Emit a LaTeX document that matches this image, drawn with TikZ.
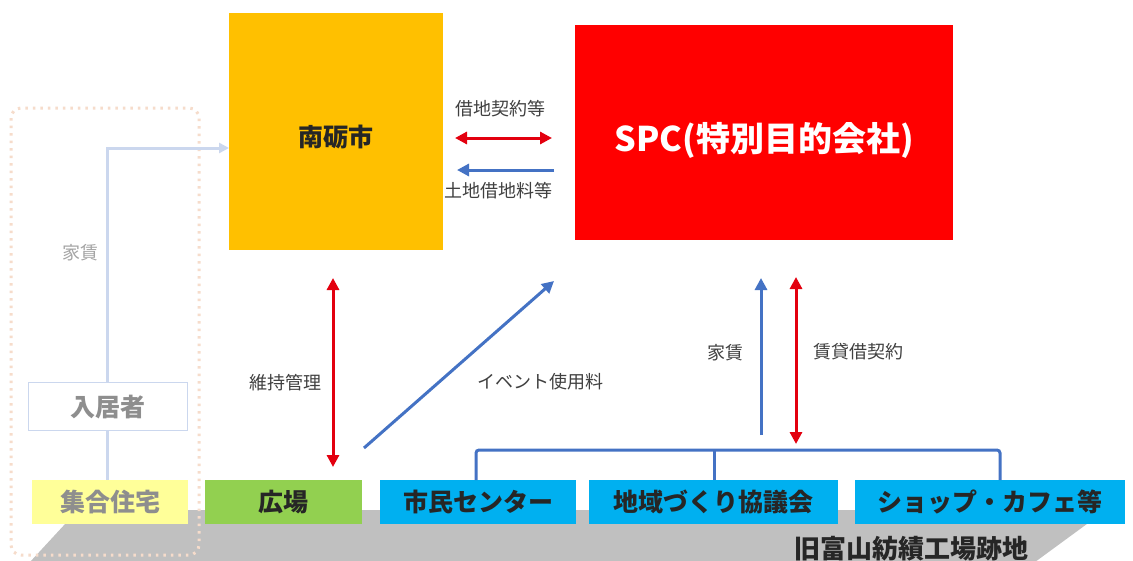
\documentclass[tikz,border=0pt]{standalone}
\usepackage{fontspec}
\setmainfont{Noto Sans CJK JP}
\usetikzlibrary{arrows.meta}
\definecolor{orangeY}{HTML}{FFC000}
\definecolor{spcred}{HTML}{FF0000}
\definecolor{arrblue}{HTML}{4472C4}
\definecolor{arrred}{HTML}{E3000F}
\definecolor{cyanb}{HTML}{00B0F0}
\definecolor{grn}{HTML}{92D050}
\definecolor{grayb}{HTML}{C0C0C0}
\definecolor{paleyel}{HTML}{FFFF99}
\definecolor{palepeach}{HTML}{F6DCCB}
\definecolor{paleblue}{HTML}{CBD7EE}
\definecolor{fadetxt}{HTML}{8E8E8E}
\definecolor{lbltxt}{HTML}{404040}
\tikzset{
  lbl/.style={font=\fontsize{18}{18}\selectfont, text=lbltxt, inner sep=0pt},
  botbox/.style={minimum height=44pt, inner sep=0pt, font=\bfseries\fontsize{25}{25}\selectfont, text=black!85},
  bluearr/.style={arrblue, line width=3pt, -{Triangle[length=12pt,width=12pt]}},
  redarr/.style={arrred, line width=3pt, {Triangle[length=12pt,width=12pt]}-{Triangle[length=12pt,width=12pt]}},
  bracket/.style={arrblue, line width=3pt, rounded corners=3pt},
}
\begin{document}
\begin{tikzpicture}[x=1pt,y=-1pt]
\useasboundingbox (0,0) rectangle (1133,560);
\clip (0,0) rectangle (1133,560);
\fill[white] (0,0) rectangle (1133,560);
% ground
\fill[grayb] (30,562) -- (78,510) -- (1106,510) -- (1035,562) -- cycle;
\node[font=\bfseries\fontsize{26}{26}\selectfont, text=black!85, inner sep=0pt] (site) at (911,549) {旧富山紡績工場跡地};
% dotted frame
\draw[palepeach, line width=3pt, dash pattern=on 2.5pt off 5pt, rounded corners=10pt] (11,108) rectangle (199,555);
% main boxes
\node[fill=orangeY, minimum width=214pt, minimum height=237pt, inner sep=0pt, anchor=north west] (nanto) at (229,13) {};
\node[font=\bfseries\fontsize{25}{25}\selectfont, text=black!85] (nantotxt) at (nanto.center) [yshift=-5pt] {南砺市};
\node[fill=spcred, minimum width=378pt, minimum height=215pt, inner sep=0pt, anchor=north west] (spc) at (575,25) {};
\node[font=\bfseries\fontsize{34}{34}\selectfont, text=white] (spctxt) at (spc.center) [yshift=-8pt] {SPC(特別目的会社)};
% bottom boxes
\node[botbox, fill=paleyel, minimum width=156pt, text=fadetxt, anchor=north west] (shugo) at (32,480) {集合住宅};
\node[botbox, fill=grn, minimum width=157pt, anchor=north west] (hiroba) at (205,480) {広場};
\node[botbox, fill=cyanb, minimum width=196pt, anchor=north west] (shimin) at (380,480) {市民センター};
\node[botbox, fill=cyanb, minimum width=249pt, anchor=north west] (chiiki) at (589,480) {地域づくり協議会};
\node[botbox, fill=cyanb, minimum width=270pt, anchor=north west] (shop) at (855,480) {ショップ・カフェ等};
% resident
\node[draw=paleblue, line width=1.2pt, fill=white, minimum width=159pt, minimum height=48pt, inner sep=0pt, anchor=north west, font=\bfseries\fontsize{25}{25}\selectfont, text=fadetxt] (nyukyo) at (28,382) {入居者};
\draw[paleblue, line width=3pt] (nyukyo.south -| 107,0) -- (shugo.north -| 107,0);
\draw[paleblue, line width=3pt, -{Triangle[length=10pt,width=10pt]}] (nyukyo.north -| 107,0) |- (nanto.west |- 0,148);
\node[lbl, text=fadetxt!80] (yachin1) at (80,253) {家賃};
% top arrows
\coordinate (a1s) at (455,138); \coordinate (a1e) at (552,138);
\draw[redarr] (a1s) -- (a1e);
\node[lbl] (shakuchi) at (500,109) {借地契約等};
\coordinate (a2s) at (554,170); \coordinate (a2e) at (457,170);
\draw[bluearr] (a2s) -- (a2e);
\node[lbl] (tochi) at (498,191) {土地借地料等};
% maintenance
\coordinate (m1) at (333,278); \coordinate (m2) at (333,467);
\draw[redarr] (m1) -- (m2);
\node[lbl] (iji) at (285,383) {維持管理};
% event
\coordinate (e1) at (364,448); \coordinate (e2) at (554,281);
\draw[bluearr] (e1) -- (e2);
\node[lbl] (event) at (540,382) {イベント使用料};
% bracket
\coordinate (bL) at (476,450); \coordinate (bM) at (714,450); \coordinate (bR) at (1000,450);
\draw[bracket] (shimin.north -| bL) -- (bL) -- (bR) -- (shop.north -| bR);
\draw[bracket] (bM) -- (chiiki.north -| bM);
% rent and lease
\coordinate (r1) at (761,435); \coordinate (r2) at (761,278);
\draw[bluearr] (r1) -- (r2);
\node[lbl] (yachin2) at (725,353) {家賃};
\coordinate (l1) at (796,277); \coordinate (l2) at (796,444);
\draw[redarr] (l1) -- (l2);
\node[lbl] (chintai) at (858,352) {賃貸借契約};
\end{tikzpicture}
\end{document}
